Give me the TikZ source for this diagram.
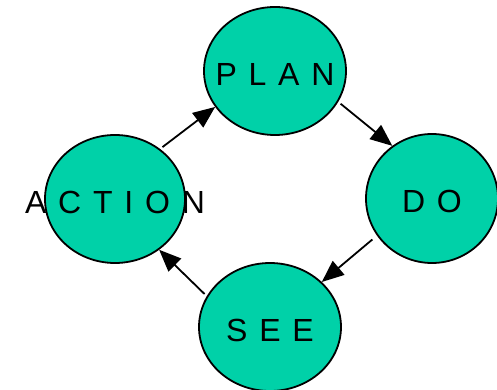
\documentclass[tikz,border=0pt]{standalone}
\usepackage{fontspec}
\setmainfont{Liberation Sans}
\usepackage{tikz}
\usetikzlibrary{shapes.geometric, arrows.meta, positioning}
\definecolor{turquoise}{RGB}{0,209,168}
\tikzstyle{vert} = [ellipse, inner sep = 0pt, draw = black, line width = 1.8pt, fill = turquoise]
\tikzstyle{mot} = [inner sep = 0pt, yshift = -3pt, font = \addfontfeature{LetterSpace=9}\fontsize{32}{34}\selectfont]
\tikzstyle{fleche} = [line width = 1.8pt, -{Triangle[length=22pt, width=18pt]}, shorten < = 3pt]

\begin{document}
\begin{tikzpicture}[x = 1pt, y = 1pt]
\useasboundingbox (0,0) rectangle (497,390) ;

\node (plan) [vert, minimum width = 142pt, minimum height = 128pt] at (275,319) {} ;
\node (do) [vert, minimum width = 132pt, minimum height = 129pt] at (432,191.5) {} ;
\node (see) [vert, minimum width = 142pt, minimum height = 128pt] at (270,63) {} ;
\node (action) [vert, minimum width = 140pt, minimum height = 128pt] at (115,191) {} ;

\node (planT) [mot] at (plan) {P L A N} ;
\node (doT) [mot] at (do) {D O} ;
\node (seeT) [mot] at (see) {S E E} ;
\node (actionT) [mot] at (action) {A C T I O N} ;

\draw[fleche] (action.48) -- (plan.211) ;
\draw[fleche] (plan.334) -- (do.127) ;
\draw[fleche, shorten < = 6pt] (do.214) -- (see.41) ;
\draw[fleche] (see.154) -- (action.311) ;
\end{tikzpicture}
\end{document}
